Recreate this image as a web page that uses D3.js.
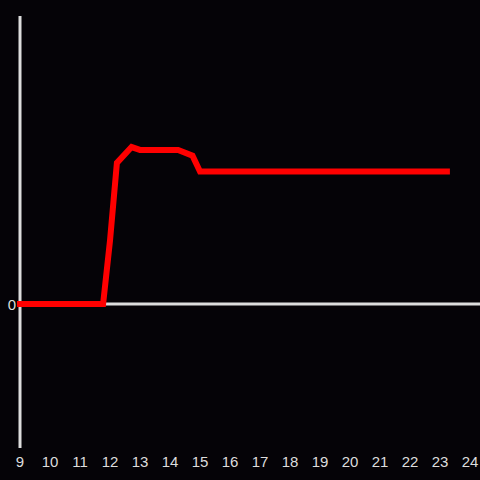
<!DOCTYPE html>
<html>
<head>
<meta charset="utf-8">
<script src="https://cdn.jsdelivr.net/npm/d3@7"></script>
<style>
  html, body { margin: 0; padding: 0; background: #050307; }
  svg { display: block; }
</style>
</head>
<body>
<div id="chart"></div>
<script>
// 数据
const hours = [8.9, 11.77, 12.0, 12.23, 12.72, 13.0, 14.27, 14.75, 15.0, 23.33];
const values = [0, 0, 0.44, 0.98, 1.09, 1.07, 1.07, 1.03, 0.92, 0.92];
const xTicks = [9, 10, 11, 12, 13, 14, 15, 16, 17, 18, 19, 20, 21, 22, 23, 24];
const yTicks = [0];

const width = 480, height = 480;

const svg = d3.select('#chart')
    .append('svg')
    .attr('width', width)
    .attr('height', height);

svg.append('rect')
    .attr('width', width)
    .attr('height', height)
    .attr('fill', '#050307');

// 比例尺
const xScale = d3.scaleLinear().domain([9, 24]).range([20, 470]);
const yScale = d3.scaleLinear().domain([-1, 2]).range([448, 16]);

// Y轴
svg.append('line')
    .attr('x1', xScale(9)).attr('x2', xScale(9))
    .attr('y1', yScale(-1)).attr('y2', yScale(2))
    .attr('stroke', '#dddddd')
    .attr('stroke-width', 3);

// X轴 (零线)
svg.append('line')
    .attr('x1', xScale(9)).attr('x2', width)
    .attr('y1', yScale(0)).attr('y2', yScale(0))
    .attr('stroke', '#dddddd')
    .attr('stroke-width', 3);

// 刻度标签
svg.selectAll('.xlabel')
    .data(xTicks)
    .enter().append('text')
    .attr('x', d => xScale(d))
    .attr('y', 467)
    .attr('text-anchor', 'middle')
    .attr('font-family', 'Liberation Sans, Arial, sans-serif')
    .attr('font-size', 15)
    .attr('fill', '#dddddd')
    .text(d => d);

svg.selectAll('.ylabel')
    .data(yTicks)
    .enter().append('text')
    .attr('x', 16)
    .attr('y', d => yScale(d) + 5.5)
    .attr('text-anchor', 'end')
    .attr('font-family', 'Liberation Sans, Arial, sans-serif')
    .attr('font-size', 15)
    .attr('fill', '#dddddd')
    .text(d => d);

// 折线
const line = d3.line()
    .x((d, i) => xScale(hours[i]))
    .y(d => yScale(d));

svg.append('path')
    .attr('d', line(values))
    .attr('fill', 'none')
    .attr('stroke', '#ff0000')
    .attr('stroke-width', 6)
    .attr('stroke-linejoin', 'miter');
</script>
</body>
</html>
